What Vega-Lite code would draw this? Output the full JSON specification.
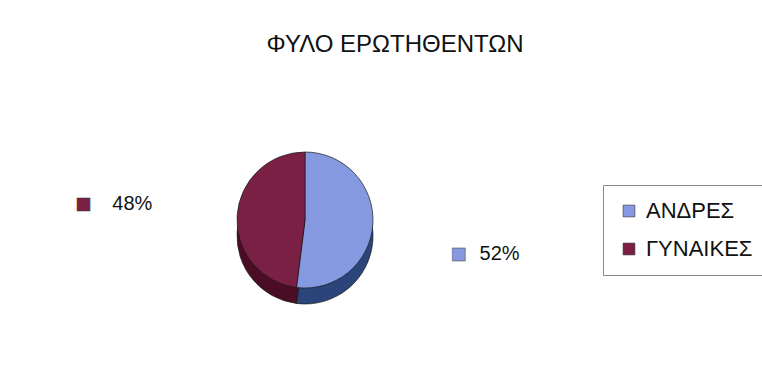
{
  "$schema": "https://vega.github.io/schema/vega-lite/v6.json",
  "autosize": {"type": "none"},
  "width": 610,
  "height": 300,
  "padding": {"top": 70, "left": 0, "right": 152, "bottom": 10},
  "background": "#ffffff",
  "config": {"view": {"stroke": null}, "font": "Liberation Sans"},
  "title": {
    "text": "ΦΥΛΟ ΕΡΩΤΗΘΕΝΤΩΝ",
    "anchor": "middle",
    "dx": 90,
    "offset": 13,
    "fontSize": 24,
    "fontWeight": "normal",
    "font": "Liberation Sans",
    "color": "#111111"
  },
  "data": {
    "values": [
      {"category": "ΑΝΔΡΕΣ", "value": 52, "label": "52%"},
      {"category": "ΓΥΝΑΙΚΕΣ", "value": 48, "label": "48%"}
    ]
  },
  "layer": [
    {
      "mark": {"type": "arc", "radius": 68, "yOffset": 16, "stroke": "#1a1a1a", "strokeWidth": 0.7},
      "encoding": {
        "theta": {"field": "value", "type": "quantitative", "stack": true},
        "order": {"field": "category", "type": "nominal", "sort": "ascending"},
        "detail": {"field": "category", "type": "nominal"},
        "color": {"condition": {"test": "datum.category === 'ΑΝΔΡΕΣ'", "value": "#2b4479"}, "value": "#4a0d24"}
      }
    },
    {
      "mark": {"type": "arc", "radius": 68, "stroke": "#1a1a1a", "strokeWidth": 0.7},
      "encoding": {
        "theta": {"field": "value", "type": "quantitative", "stack": true},
        "order": {"field": "category", "type": "nominal", "sort": "ascending"},
        "color": {
          "field": "category",
          "type": "nominal",
          "scale": {"domain": ["ΑΝΔΡΕΣ", "ΓΥΝΑΙΚΕΣ"], "range": ["#8499e0", "#7a2045"]},
          "legend": {
            "title": null,
            "orient": "none",
            "legendX": 603,
            "legendY": 115,
            "symbolType": "square",
            "symbolSize": 140,
            "symbolStrokeColor": "#333333",
            "symbolStrokeWidth": 0.6,
            "labelFontSize": 22,
            "labelFont": "Liberation Sans",
            "labelColor": "#111111",
            "labelLimit": 200,
            "labelOffset": 6,
            "rowPadding": 16,
            "strokeColor": "#888888",
            "padding": 15,
            "fillColor": "#ffffff"
          }
        }
      }
    },
    {
      "mark": {"type": "text", "radius": 173, "dy": -5, "fontSize": 20, "font": "Liberation Sans", "color": "#111111"},
      "encoding": {
        "theta": {"field": "value", "type": "quantitative", "stack": true},
        "order": {"field": "category", "type": "nominal", "sort": "ascending"},
        "detail": {"field": "category", "type": "nominal"},
        "text": {"field": "label"},
        "opacity": {"condition": {"test": "datum.category === 'ΓΥΝΑΙΚΕΣ'", "value": 1}, "value": 0}
      }
    },
    {
      "mark": {"type": "text", "radius": 195, "dy": 22, "fontSize": 20, "font": "Liberation Sans", "color": "#111111"},
      "encoding": {
        "theta": {"field": "value", "type": "quantitative", "stack": true},
        "order": {"field": "category", "type": "nominal", "sort": "ascending"},
        "detail": {"field": "category", "type": "nominal"},
        "text": {"field": "label"},
        "opacity": {"condition": {"test": "datum.category === 'ΑΝΔΡΕΣ'", "value": 1}, "value": 0}
      }
    },
    {
      "mark": {"type": "text", "radius": 173, "dx": -49, "dy": -5, "fontSize": 17, "font": "DejaVu Sans", "stroke": "#333333", "strokeWidth": 0.4},
      "encoding": {
        "theta": {"field": "value", "type": "quantitative", "stack": true},
        "order": {"field": "category", "type": "nominal", "sort": "ascending"},
        "detail": {"field": "category", "type": "nominal"},
        "color": {"condition": {"test": "datum.category === 'ΑΝΔΡΕΣ'", "value": "#8499e0"}, "value": "#7a2045"},
        "text": {"value": "■"},
        "opacity": {"condition": {"test": "datum.category === 'ΓΥΝΑΙΚΕΣ'", "value": 1}, "value": 0}
      }
    },
    {
      "mark": {"type": "text", "radius": 195, "dx": -41, "dy": 22, "fontSize": 17, "font": "DejaVu Sans", "stroke": "#333333", "strokeWidth": 0.4},
      "encoding": {
        "theta": {"field": "value", "type": "quantitative", "stack": true},
        "order": {"field": "category", "type": "nominal", "sort": "ascending"},
        "detail": {"field": "category", "type": "nominal"},
        "color": {"condition": {"test": "datum.category === 'ΑΝΔΡΕΣ'", "value": "#8499e0"}, "value": "#7a2045"},
        "text": {"value": "■"},
        "opacity": {"condition": {"test": "datum.category === 'ΑΝΔΡΕΣ'", "value": 1}, "value": 0}
      }
    }
  ]
}
